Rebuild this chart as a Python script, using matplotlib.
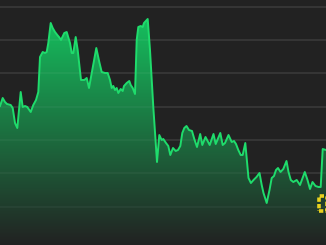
import numpy as np
import matplotlib
matplotlib.use("Agg")
import matplotlib.pyplot as plt
from matplotlib.patches import Rectangle
from matplotlib.colors import to_rgb

# time positions (trading sessions) and traced price values
t = [0, 2.7, 5, 7, 10.7, 12.7, 15, 17.3, 20.7, 22.7, 25, 27.3, 30.7, 33.3, 36, 38.3,
     40, 42.7, 45, 46.7, 48.3, 50.7, 52.7, 55, 57.3, 59, 61, 64.3, 66.7, 70, 71.7,
     73.3, 75.7, 77.7, 81, 84.3, 86.7, 89, 92.3, 96.3, 99.3, 101.7, 105, 107.7, 110,
     111.7, 113.3, 115, 116.7, 118.3, 120.7, 122.7, 124, 126.7, 129.3, 130.7, 132.7,
     135, 136.7, 138.3, 140.7, 142.7, 144, 146.7, 147.7, 150, 153.3, 155, 157, 159.3,
     161.7, 163.3, 166, 168.3, 170.3, 173, 175.7, 178, 180.3, 182.3, 184.3, 186.5,
     189, 192, 194.3, 197, 200.2, 202.3, 205.5, 209.7, 213.5, 215.7, 220.3, 222.7,
     225, 228.5, 231.7, 234, 236, 238.3, 240.7, 242.7, 245.3, 248.5, 250.9, 253.5,
     256.5, 259.5, 261.7, 263.5, 266.7, 269.5, 271.7, 274, 276, 278, 280.5, 283.3,
     286.5, 288.5, 290.8, 293.3, 296.7, 300, 304.8, 307.5, 310, 312.5, 315.5, 318.5,
     320.7, 322.7, 326]
ypix = [106, 98, 102, 104, 105, 108, 123, 128, 92, 107, 106, 107, 112, 105, 100, 92,
        57, 52, 53, 52, 43, 23, 28, 32, 35, 37, 40, 33, 32, 43, 53,
        53, 37, 50, 80, 80, 78, 88, 70, 48, 62, 72, 73, 73, 80,
        88, 86, 90, 88, 93, 89, 91, 86, 83, 81, 85, 88,
        94, 40, 27, 26, 27, 23, 20, 19, 50, 107, 133, 162, 135,
        140, 139, 143, 146, 155, 148, 151, 150, 146, 133, 128, 126,
        130, 131, 139, 147, 134, 145, 137, 145, 134, 144, 133, 145,
        143, 135, 142, 141, 144, 150, 155, 155, 143, 178, 183, 180,
        177, 173, 185, 193, 203, 190, 178, 176, 170, 168, 172, 169,
        161, 172, 180, 182, 180, 185, 172, 180, 189, 182, 186, 187,
        187, 149, 150]
price = [round((240 - y) * 0.3, 1) for y in ypix]
grid_levels = [0, 10, 20, 30, 40, 50, 60, 70]
marker_box = (318.8, 8.6, 8.0, 4.6)  # x, y, w, h of the last-price marker

BG = "#222222"
LINE = "#1fdc6c"
FILL_TOP = "#14d466"

fig = plt.figure(figsize=(3.26, 2.45), dpi=100, facecolor=BG)
ax = fig.add_axes([0, 0, 1, 1])
ax.set_facecolor(BG)
ax.set_xlim(0, 326)
ax.set_ylim(-1.5, 72)

for g in grid_levels:
    if g == 0:
        ax.axhline(g, color="#444444", lw=1.6, zorder=1)
    else:
        ax.axhline(g, color="#313131", lw=1.1, zorder=1)

# gradient fill
poly = ax.fill_between(t, price, -1.5, color="none", lw=0)
rgb = np.array(to_rgb(FILL_TOP))
bg = np.array(to_rgb(BG))
n = 256
frac = np.linspace(1, 0, n)[:, None]  # top -> bottom
alpha = 0.95 * frac
cols = bg[None, :] * (1 - alpha) + rgb[None, :] * alpha
img = np.repeat(cols[:, None, :], 2, axis=1)
im = ax.imshow(img, extent=[0, 326, -1.5, 72], aspect="auto", zorder=2,
               origin="upper", interpolation="bilinear")
path = poly.get_paths()[0]
im.set_clip_path(path, transform=ax.transData)

# gridlines faintly visible over fill
for g in grid_levels[1:]:
    ax.axhline(g, color="#ffffff", alpha=0.05, lw=1.1, zorder=3)

ax.plot(t, price, color=LINE, lw=1.4, zorder=4, solid_joinstyle="round")

ax.add_patch(Rectangle(marker_box[:2], marker_box[2], marker_box[3], fill=False,
                       edgecolor="#e8d21e", lw=2.6, linestyle=(0, (1.2, 0.6)), zorder=5))

ax.axis("off")
fig.savefig("out.png", dpi=100, facecolor=BG)
